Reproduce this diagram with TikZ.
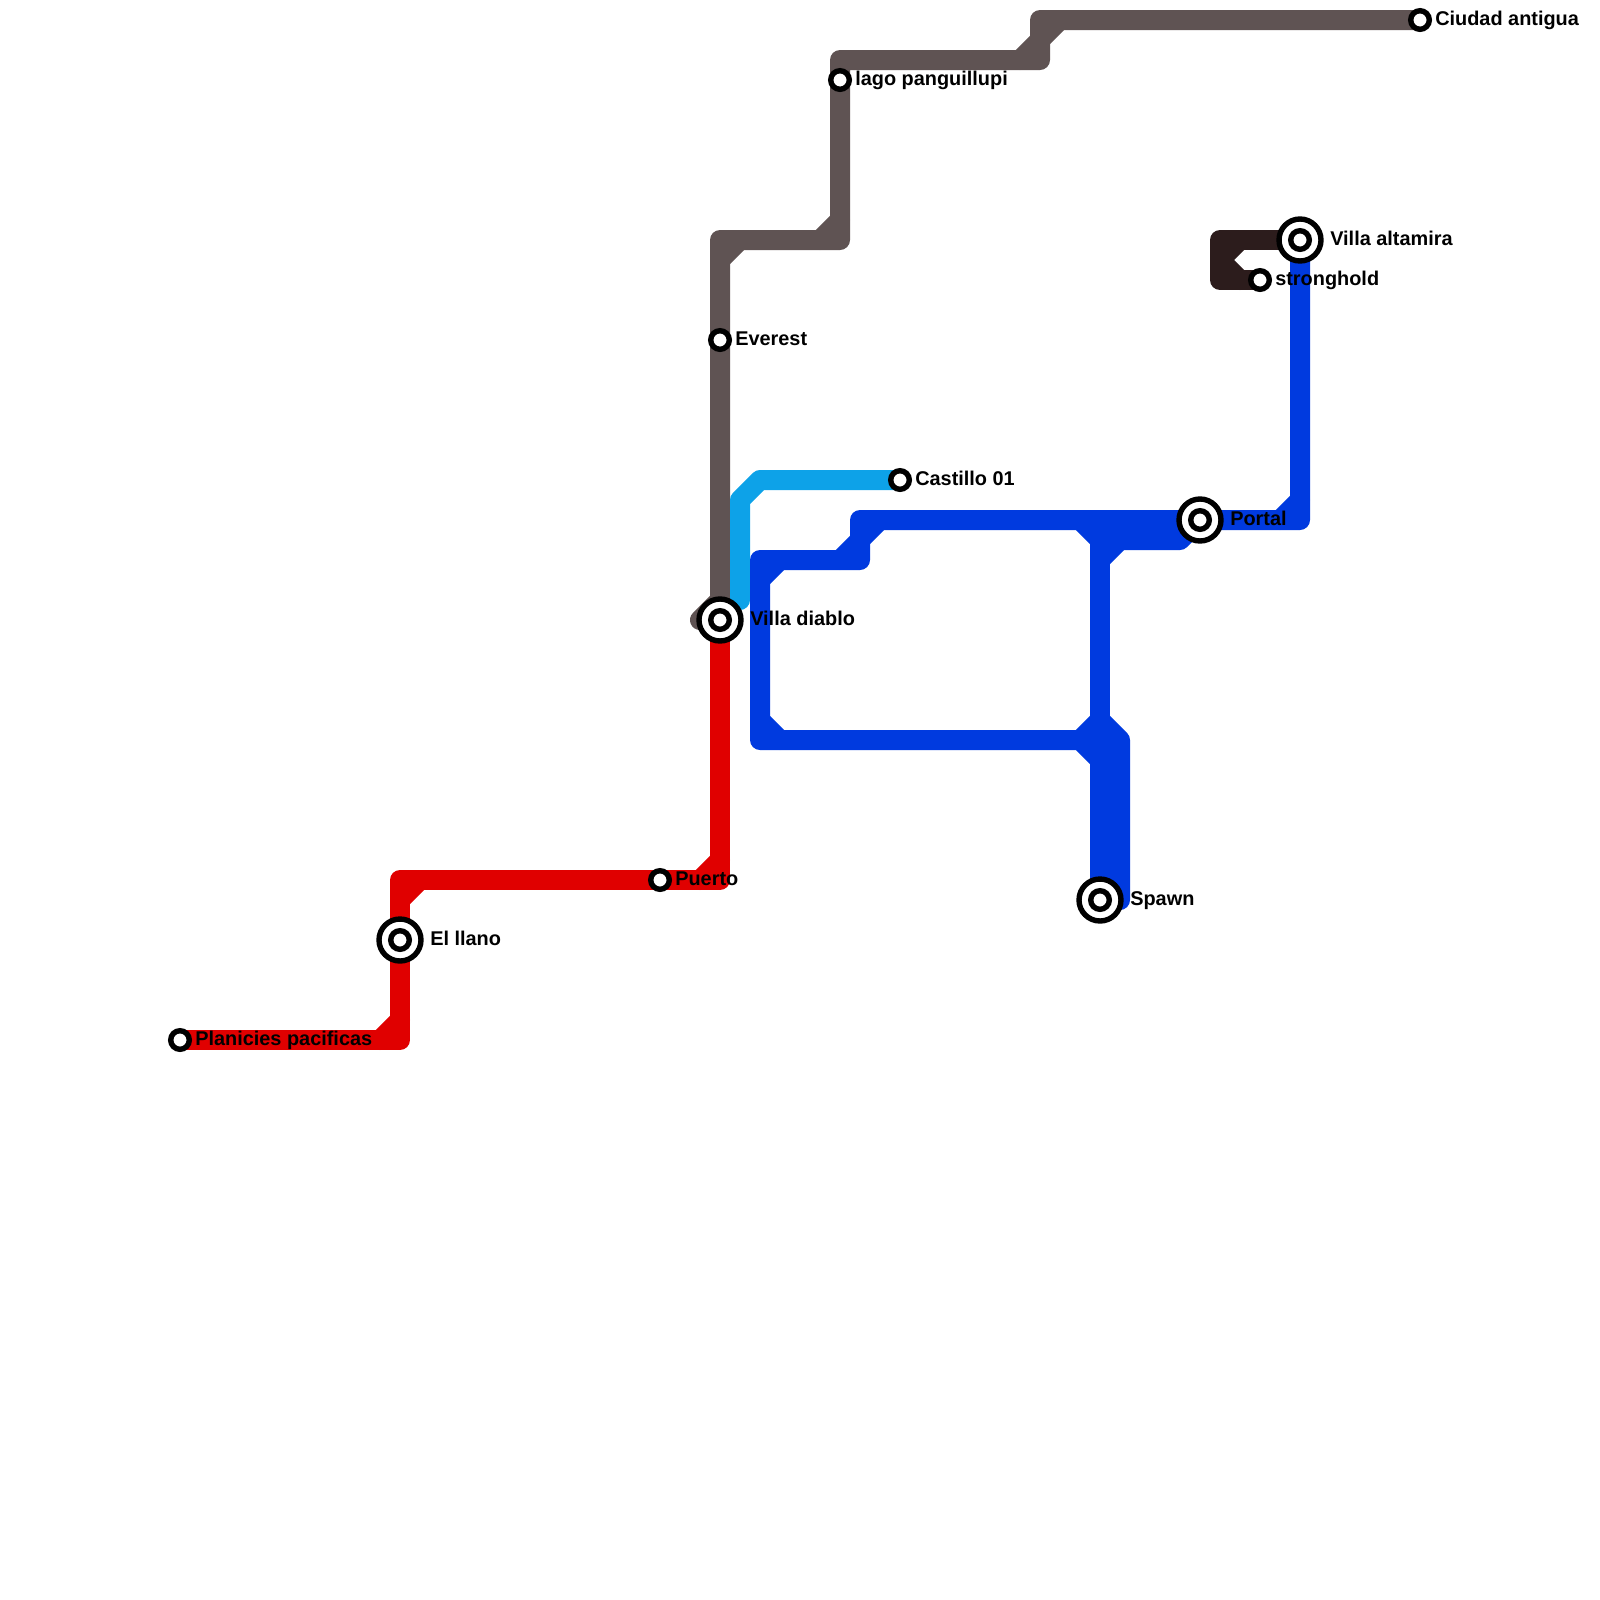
\documentclass[tikz,border=0pt]{standalone}
\usepackage{fontspec}
\setmainfont{Liberation Sans}
\usepackage{tikz}
\tikzset{
    metroline/.style={line width=0.5cm, line cap=round, line join=round},
    redline/.style={metroline, draw=linered},
    greyline/.style={metroline, draw=linegrey},
    skyline/.style={metroline, draw=linesky},
    blueline/.style={metroline, draw=lineblue},
    darkline/.style={metroline, draw=linedark},
    stopvertex/.style={circle, draw=black, fill=white, line width=0.135cm, inner sep=0pt, minimum size=0.465cm},
    hubvertex/.style={circle, draw=black, fill=white, line width=0.135cm, inner sep=0pt, minimum size=1.05cm},
    stoplabel/.style={anchor=base west, inner sep=0pt, font=\fontsize{14.15}{17}\selectfont\bfseries}
}
\definecolor{linered}{HTML}{E00000}
\definecolor{linegrey}{HTML}{5F5353}
\definecolor{linesky}{HTML}{0DA2E8}
\definecolor{lineblue}{HTML}{003ADF}
\definecolor{linedark}{HTML}{2C1C1C}

\begin{document}
\begin{tikzpicture}[x=0.5cm, y=-0.5cm]
    \useasboundingbox (0,0) rectangle (80,80);
    % stations
    \coordinate (planicies) at (9,52);
    \coordinate (llano) at (20,47);
    \coordinate (puerto) at (33,44);
    \coordinate (diablo) at (36,31);
    \coordinate (everest) at (36,17);
    \coordinate (lago) at (42,4);
    \coordinate (ciudad) at (71,1);
    \coordinate (castillo) at (45,24);
    \coordinate (spawn) at (55,45);
    \coordinate (portal) at (60,26);
    \coordinate (altamira) at (65,12);
    \coordinate (stronghold) at (63,14);
    % red
    \coordinate (ra) at (20,52);
    \coordinate (rb) at (20,44);
    \coordinate (rc) at (36,44);
    \draw[redline] (planicies)--(ra)--(rb)--(rc)--(diablo);
    \draw[redline] (19,52)--(20,51);
    \draw[redline] (20,45)--(21,44);
    \draw[redline] (35,44)--(36,43);
    % grey
    \coordinate (ga) at (36,30);
    \coordinate (gb) at (35,31);
    \coordinate (gc) at (36,12);
    \coordinate (gd) at (42,12);
    \coordinate (ge) at (42,3);
    \coordinate (gf) at (52,3);
    \coordinate (gg) at (52,1);
    \draw[greyline] (diablo)--(gb)--(ga)--(gc)--(gd)--(ge)--(gf)--(gg)--(ciudad);
    \draw[greyline] (36,13)--(37,12);
    \draw[greyline] (41,12)--(42,11);
    \draw[greyline] (51,3)--(52,2);
    \draw[greyline] (52,2)--(53,1);
    % sky
    \coordinate (sa) at (38,24);
    \coordinate (sb) at (37,25);
    \coordinate (sc) at (37,30);
    \draw[skyline] (castillo)--(sa)--(sb)--(sc);
    % blue
    \coordinate (ba) at (65,26);
    \coordinate (bb) at (43,26);
    \coordinate (bc) at (43,28);
    \coordinate (bd) at (38,28);
    \coordinate (be) at (38,37);
    \coordinate (bf) at (54,37);
    \coordinate (bg) at (55,36);
    \coordinate (bh) at (56,37);
    \coordinate (bi) at (56,45);
    \coordinate (bj) at (55,27);
    \coordinate (bk) at (59,27);
    \draw[blueline] (altamira)--(ba)--(portal)--(bb)--(bc)--(bd)--(be)--(bf)--(55,38);
    \draw[blueline] (bf)--(bg)--(bh)--(bi)--(spawn);
    \draw[blueline] (spawn)--(55,26);
    \draw[blueline] (bj)--(bk)--(portal);
    \draw[blueline] (54,26)--(bj);
    \draw[blueline] (55,28)--(56,27);
    \draw[blueline] (64,26)--(65,25);
    \draw[blueline] (43,27)--(44,26);
    \draw[blueline] (42,28)--(43,27);
    \draw[blueline] (38,29)--(39,28);
    \draw[blueline] (38,36)--(39,37);
    % dark
    \coordinate (da) at (61,12);
    \coordinate (db) at (61,14);
    \draw[darkline] (altamira)--(da)--(db)--(stronghold);
    \draw[darkline] (61,13)--(62,12);
    \draw[darkline] (61,13)--(62,14);
    % vertices
    \node[stopvertex] (planiciesstop) at (planicies) {};
    \node[hubvertex] (llanohub) at (llano) {};
    \node[stopvertex] (llanostop) at (llano) {};
    \node[stopvertex] (puertostop) at (puerto) {};
    \node[hubvertex] (diablohub) at (diablo) {};
    \node[stopvertex] (diablostop) at (diablo) {};
    \node[stopvertex] (everesstop) at (everest) {};
    \node[stopvertex] (lagostop) at (lago) {};
    \node[stopvertex] (ciudadstop) at (ciudad) {};
    \node[stopvertex] (castillostop) at (castillo) {};
    \node[hubvertex] (spawnhub) at (spawn) {};
    \node[stopvertex] (spawnstop) at (spawn) {};
    \node[hubvertex] (portalhub) at (portal) {};
    \node[stopvertex] (portalstop) at (portal) {};
    \node[hubvertex] (altamirahub) at (altamira) {};
    \node[stopvertex] (altamirastop) at (altamira) {};
    \node[stopvertex] (strongholdstop) at (stronghold) {};
    % labels
    \node[stoplabel] (planicieslabel) at (9.75,52.25) {Planicies pacificas};
    \node[stoplabel] (llanolabel) at (21.5,47.25) {El llano};
    \node[stoplabel] (puertolabel) at (33.75,44.25) {Puerto};
    \node[stoplabel] (diablolabel) at (37.5,31.25) {Villa diablo};
    \node[stoplabel] (everestlabel) at (36.75,17.25) {Everest};
    \node[stoplabel] (lagolabel) at (42.75,4.25) {lago panguillupi};
    \node[stoplabel] (ciudadlabel) at (71.75,1.25) {Ciudad antigua};
    \node[stoplabel] (castillolabel) at (45.75,24.25) {Castillo 01};
    \node[stoplabel] (spawnlabel) at (56.5,45.25) {Spawn};
    \node[stoplabel] (portallabel) at (61.5,26.25) {Portal};
    \node[stoplabel] (altamiralabel) at (66.5,12.25) {Villa altamira};
    \node[stoplabel] (strongholdlabel) at (63.75,14.25) {stronghold};
\end{tikzpicture}
\end{document}
